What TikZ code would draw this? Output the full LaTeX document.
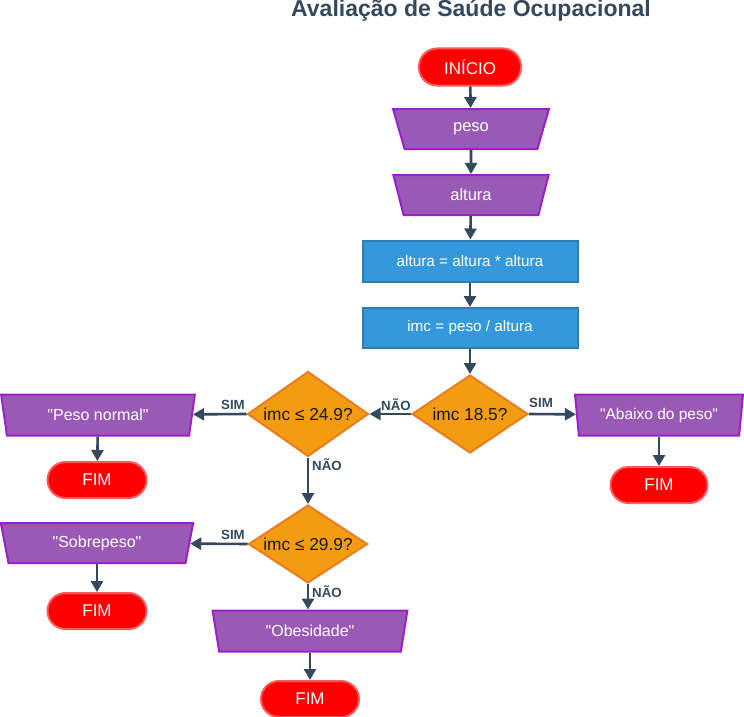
\documentclass[tikz,border=0pt]{standalone}
\usepackage{fontspec}
\setmainfont{Liberation Sans}[Ligatures=TeXOff]
\usetikzlibrary{shapes.geometric,arrows.meta}
\definecolor{arrowc}{HTML}{34495E}
\definecolor{ioFill}{HTML}{9B59B6}
\definecolor{ioDraw}{HTML}{9C1FCC}
\definecolor{prFill}{HTML}{3498DB}
\definecolor{prDraw}{HTML}{2980B9}
\definecolor{dcFill}{HTML}{F39C12}
\definecolor{dcDraw}{HTML}{E67E22}
\definecolor{tmFill}{HTML}{FF0000}
\definecolor{tmDraw}{HTML}{FF5A5A}
\tikzset{
  term/.style={rectangle, rounded corners=18pt, fill=tmFill, draw=tmDraw, line width=2pt,
    minimum width=99pt, minimum height=36pt, text=white, font=\fontsize{17}{19}\selectfont},
  io/.style={trapezium, trapezium left angle=78, trapezium right angle=78, shape border rotate=180,
    trapezium stretches=true, fill=ioFill, draw=ioDraw, line width=2pt, inner sep=2pt,
    minimum height=40pt, text=white, font=\fontsize{16}{18}\selectfont},
  proc/.style={rectangle, fill=prFill, draw=prDraw, line width=2pt, minimum width=215pt,
    minimum height=40pt, text=white, font=\fontsize{15.3}{18}\selectfont},
  dec/.style={diamond, aspect=1.5, inner sep=0pt, fill=dcFill, draw=dcDraw, line width=2pt,
    text=black!90, font=\fontsize{17.3}{19}\selectfont},
  arr/.style={draw=arrowc, line width=2.6pt, -{Triangle[width=12pt,length=11pt]}},
  lbl/.style={text=arrowc, font=\bfseries\fontsize{13.3}{15}\selectfont, inner sep=0pt},
}
\begin{document}
\begin{tikzpicture}[x=1pt,y=-1pt]
\fill[white] (0,0) rectangle (744,717);
\useasboundingbox (0,0) rectangle (744,717);
\node[text=arrowc, font=\bfseries\fontsize{23}{26}\selectfont, anchor=base] (title) at (471,17) {Avaliação de Saúde Ocupacional};

\node[term, minimum width=102pt, minimum height=37pt] (start) at (470,67) {INÍCIO};
\node[io, minimum width=156pt, font=\fontsize{16.5}{18}\selectfont] (peso) at (471,129) {peso};
\node[io, minimum width=156pt, font=\fontsize{16.5}{18}\selectfont] (alt) at (471,195) {altura};
\node[proc, minimum height=41pt] (p1) at (470,261) {altura = altura * altura};
\node[proc] (p2) at (470,328) {imc = peso / altura};
\node[dec, minimum width=116pt, minimum height=78pt] (d1) at (470,414) {imc 18.5?};
\node[io, trapezium left angle=81, trapezium right angle=81, minimum width=168pt, minimum height=41pt, font=\fontsize{15.5}{18}\selectfont] (abaixo) at (659,415) {"Abaixo do peso"};
\node[term, minimum width=97pt] (f1) at (659,485) {FIM};
\node[dec, minimum width=121pt, minimum height=85pt] (d2) at (308,414) {imc ≤ 24.9?};
\node[io, minimum width=194pt, minimum height=41pt] (normal) at (98,415) {"Peso normal"};
\node[term] (f2) at (97,480) {FIM};
\node[dec, minimum width=119pt, minimum height=78pt] (d3) at (308,544) {imc ≤ 29.9?};
\node[io, minimum width=193pt] (sobre) at (97,543) {"Sobrepeso"};
\node[term] (f3) at (97,611) {FIM};
\node[io, minimum width=196pt, minimum height=41pt] (obes) at (310,631) {"Obesidade"};
\node[term, minimum width=98pt] (f4) at (310,699) {FIM};

\draw[arr] (start) -- (peso);
\draw[arr] (peso) -- (alt);
\draw[arr] (alt) -- (p1);
\draw[arr] (p1) -- (p2);
\draw[arr] (p2) -- (d1);
\draw[arr] (d1.east) -- (abaixo);
\draw[arr] (abaixo) -- (f1);
\draw[arr] (d1.west) -- (d2.east);
\draw[arr] (d2.west) -- (normal);
\draw[arr] (normal) -- (f2);
\draw[arr] (d2.south) -- (d3.north);
\draw[arr] (d3.west) -- (sobre);
\draw[arr] (sobre) -- (f3);
\draw[arr] (d3.south) -- (d3.south |- obes.north);
\draw[arr] (obes) -- (f4);

\node[lbl] (l1) at (541,403) {SIM};
\node[lbl] (l2) at (396,405) {NÃO};
\node[lbl] (l3) at (233,405) {SIM};
\node[lbl] (l4) at (327,465) {NÃO};
\node[lbl] (l5) at (233,535) {SIM};
\node[lbl] (l6) at (327,592) {NÃO};
\end{tikzpicture}
\end{document}
